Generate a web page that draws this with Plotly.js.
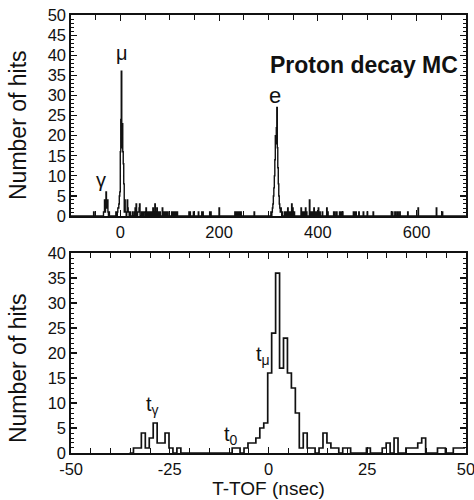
<!DOCTYPE html>
<html><head><meta charset="utf-8">
<script src="https://cdn.plot.ly/plotly-3.0.1.min.js"></script>
<style>html,body{margin:0;padding:0;background:#fff}#chart{width:474px;height:500px}</style>
</head><body><div id="chart"></div>
<script>
// ---- data (1 ns bins, bin k spans [k-0.2, k+0.8] ns) ----
const binOffset = -0.2;
// lower panel counts, bins k = -35 ... 49
const lowerFirstBin = -35;
const lowerCounts = [
  0, 1, 1, 4, 1, 3, 6, 2, 2, 4, 1, 0, 1,            // -35 .. -23
  0, 0, 0, 0, 0, 0, 0, 0, 0, 0, 0, 0, 0,            // -22 .. -10
  1, 1, 0, 1, 2, 2, 3, 5, 6,                         // -9 .. -1
  16, 24, 36, 17, 23, 16, 13, 8, 1, 4,               // 0 .. 9
  1, 1, 0, 1, 4, 2, 1, 1, 0, 1,                      // 10 .. 19
  1, 0, 0, 0, 0, 1, 0, 0, 0, 1,                      // 20 .. 29
  2, 0, 3, 0, 0, 1, 1, 1, 2, 3,                      // 30 .. 39
  0, 0, 0, 1, 1, 0, 0, 1, 1, 1                       // 40 .. 49
];
// upper panel: extra hits outside the lower window (bin index in ns, count)
const upperHitTimes = [
  -54, 52, 55, 58, 61, 64, 66, 68, 70, 72, 74, 77, 80, 85, 87, 90, 93, 96,
  104, 106, 108, 110, 113, 115, 139, 141, 148, 158, 165, 167, 181, 183, 200,
  232, 234, 236, 238, 241, 244, 271,
  305, 307, 308, 309, 310, 311, 312, 313, 314, 315, 316, 317, 318, 319, 320,
  321, 322, 323, 324, 325, 326, 328,
  333, 336, 339, 341, 344, 347, 349, 352, 366, 369, 372, 375, 377, 383, 386,
  389, 392, 395, 398, 401, 404, 409, 418, 420, 432, 434, 438, 444, 447, 450,
  472, 474, 477, 483, 492, 500, 512, 549, 551, 556, 560, 562, 566, 582, 603,
  640, 652
];
const upperHitCounts = [
  1, 2, 1, 1, 1, 1, 2, 1, 3, 1, 2, 1, 1, 2, 1, 1, 1, 1,
  1, 1, 1, 1, 1, 1, 1, 1, 1, 1, 1, 1, 1, 1, 2,
  1, 1, 1, 1, 1, 1, 1,
  1, 1, 2, 3, 5, 7, 10, 14, 20, 18, 22, 27, 17, 12, 8,
  5, 3, 2, 1, 2, 1, 1,
  1, 1, 2, 1, 1, 3, 2, 1, 2, 1, 1, 2, 1, 4, 1,
  1, 2, 1, 1, 2, 1, 1, 2, 1, 1, 1, 1, 1, 1, 1,
  1, 1, 1, 1, 1, 1, 1, 1, 1, 1, 1, 1, 1, 1, 2,
  2, 1
];
const upperFirstBin = -100, upperLastBin = 699;

const topXTicks = [0, 200, 400, 600];
const topXLabels = ['0', '200', '400', '600'];
const botXTicks = [-50, -25, 0, 25, 50];
const botXLabels = ['-50', '-25', '0', '25', '50'];

// ---- build step tables ----
function stepTable(first, counts) {
  const xs = [], ys = [];
  for (let i = 0; i < counts.length; i++) {
    xs.push(first + i + binOffset);
    ys.push(counts[i]);
  }
  xs.push(first + counts.length + binOffset);
  ys.push(counts[counts.length - 1]);
  return {xs, ys};
}
const upperCounts = new Array(upperLastBin - upperFirstBin + 1).fill(0);
lowerCounts.forEach((c, i) => { upperCounts[lowerFirstBin + i - upperFirstBin] = c; });
upperHitTimes.forEach((t, i) => { upperCounts[t - upperFirstBin] = upperHitCounts[i]; });

const lo = stepTable(lowerFirstBin, lowerCounts);
const up = stepTable(upperFirstBin, upperCounts);

const FONT = 'Liberation Sans, Arial, sans-serif';
const ink = '#111';

const traces = [
  {x: up.xs, y: up.ys, type: 'scatter', mode: 'lines', line: {shape: 'hv', color: ink, width: 1.4},
   xaxis: 'x', yaxis: 'y', hoverinfo: 'skip'},
  {x: lo.xs, y: lo.ys, type: 'scatter', mode: 'lines', line: {shape: 'hv', color: ink, width: 1.7},
   xaxis: 'x2', yaxis: 'y2', hoverinfo: 'skip'}
];

const axCommon = {
  showline: true, linecolor: ink, linewidth: 1.7, mirror: 'ticks',
  ticks: 'inside', tickcolor: ink, tickwidth: 1.2, ticklen: 6,
  showgrid: false, zeroline: false, ticklabeloverflow: 'allow',
  tickfont: {family: FONT, size: 16.5, color: ink}
};

const layout = {
  width: 474, height: 500,
  margin: {l: 71, r: 8, t: 15, b: 47},
  paper_bgcolor: '#fff', plot_bgcolor: '#fff',
  showlegend: false,
  font: {family: FONT, color: ink},
  xaxis: Object.assign({}, axCommon, {
    domain: [0, 1], anchor: 'y', range: [-100, 700],
    tickmode: 'array', tickvals: topXTicks, ticktext: topXLabels,
    minor: {dtick: 50, tick0: 0, ticks: 'inside', ticklen: 5, tickcolor: ink, tickwidth: 1}
  }),
  yaxis: Object.assign({}, axCommon, {
    domain: [0.541, 1], anchor: 'x', range: [0, 50.01], dtick: 5, tick0: 0,
    minor: {dtick: 1, ticks: 'inside', ticklen: 3, tickcolor: ink, tickwidth: 1}
  }),
  xaxis2: Object.assign({}, axCommon, {
    domain: [0, 1], anchor: 'y2', range: [-50.02, 50.02],
    tickmode: 'array', tickvals: botXTicks, ticktext: botXLabels,
    minor: {dtick: 5, tick0: 0, ticks: 'inside', ticklen: 5, tickcolor: ink, tickwidth: 1},
    title: {text: 'T-TOF (nsec)', font: {family: FONT, size: 19, color: ink}, standoff: 5}
  }),
  yaxis2: Object.assign({}, axCommon, {
    domain: [0, 0.4566], anchor: 'x2', range: [0, 40.01], dtick: 5, tick0: 0,
    minor: {dtick: 1, ticks: 'inside', ticklen: 3, tickcolor: ink, tickwidth: 1}
  }),
  annotations: [
    {xref: 'paper', yref: 'paper', x: -0.134, y: 0.749, xanchor: 'center', yanchor: 'middle', textangle: -90,
     text: 'Number of hits', showarrow: false, font: {family: FONT, size: 23, color: ink}},
    {xref: 'paper', yref: 'paper', x: -0.134, y: 0.194, xanchor: 'center', yanchor: 'middle', textangle: -90,
     text: 'Number of hits', showarrow: false, font: {family: FONT, size: 23, color: ink}},
    {xref: 'x', yref: 'y', x: -40, y: 9, text: 'γ', showarrow: false, font: {family: FONT, size: 20, color: ink}},
    {xref: 'x', yref: 'y', x: 4, y: 40.5, text: 'μ', showarrow: false, font: {family: FONT, size: 20, color: ink}},
    {xref: 'x', yref: 'y', x: 313, y: 30, text: 'e', showarrow: false, font: {family: FONT, size: 22, color: ink}},
    {xref: 'paper', yref: 'y', x: 0.985, y: 37.5, xanchor: 'right', text: '<b>Proton decay MC</b>', showarrow: false,
     font: {family: FONT, size: 23, color: ink}},
    {xref: 'x2', yref: 'y2', x: -29.5, y: 9.5, text: 't<sub>γ</sub>', showarrow: false, font: {family: FONT, size: 20, color: ink}},
    {xref: 'x2', yref: 'y2', x: -9.5, y: 3.5, text: 't<sub>0</sub>', showarrow: false, font: {family: FONT, size: 20, color: ink}},
    {xref: 'x2', yref: 'y2', x: -1.5, y: 19.5, text: 't<sub>μ</sub>', showarrow: false, font: {family: FONT, size: 20, color: ink}}
  ]
};

Plotly.newPlot('chart', traces, layout, {displayModeBar: false, staticPlot: true});
</script>
</body></html>
